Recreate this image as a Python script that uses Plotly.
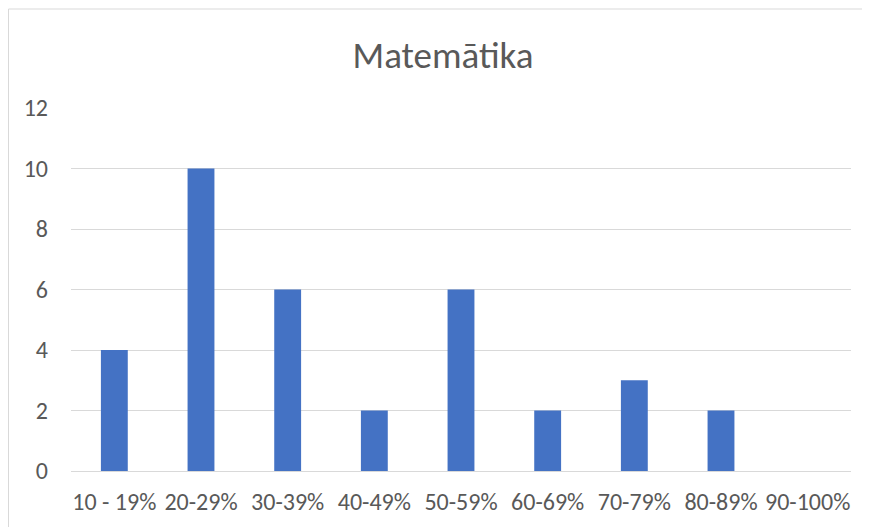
import plotly.graph_objects as go

categories = ["10 - 19%", "20-29%", "30-39%", "40-49%", "50-59%",
              "60-69%", "70-79%", "80-89%", "90-100%"]
counts = [4, 10, 6, 2, 6, 2, 3, 2, 0]
y_ticks = [0, 2, 4, 6, 8, 10, 12]

# the page puts the figure 8px in from the top-left, so margins are shifted
W, H = 870, 527
L, R, T, B = 63, 27, 100, 64
pw, ph = W - L - R, H - T - B

fig = go.Figure(
    go.Bar(
        x=categories,
        y=counts,
        marker=dict(color="#4472C4", line=dict(width=0)),
        width=0.31,
        hoverinfo="x+y",
    )
)

# chart area border (light grey frame like the office chart)
fig.add_shape(
    type="rect", xref="paper", yref="paper",
    x0=(0.5 - L) / pw, x1=(858 - L) / pw,
    y0=(H - B - 540) / ph, y1=(H - B - 1) / ph,
    line=dict(color="#D9D9D9", width=1),
    fillcolor="rgba(0,0,0,0)", layer="below",
)

fig.update_layout(
    width=W, height=H,
    margin=dict(l=L, r=R, t=T, b=B),
    paper_bgcolor="white",
    plot_bgcolor="white",
    font=dict(family="Carlito, Lato, sans-serif", color="#595959", size=24),
    title=dict(text="Matemātika", x=0.5, xanchor="center", y=0.911, yanchor="middle",
               font=dict(size=37, color="#595959")),
    showlegend=False,
)
fig.update_xaxes(
    showgrid=False, showline=True, linecolor="#D9D9D9", linewidth=1,
    ticks="", tickfont=dict(size=24), ticklabelstandoff=9,
)
fig.update_yaxes(
    range=[0, 12], tickvals=y_ticks, showgrid=True, gridcolor="#D9D9D9",
    gridwidth=1, zeroline=False, showline=False, ticks="",
    tickfont=dict(size=24), ticklabelstandoff=22,
)

fig.write_html("out.html")
